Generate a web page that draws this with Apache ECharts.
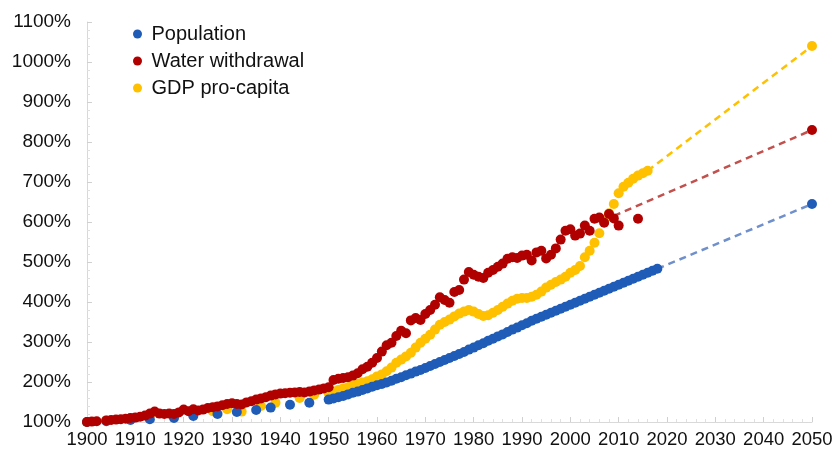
<!DOCTYPE html>
<html>
<head>
<meta charset="utf-8">
<script src="https://cdn.jsdelivr.net/npm/echarts@6/dist/echarts.min.js"></script>
<style>
  html, body { margin: 0; padding: 0; background: #fff; }
  #chart { width: 838px; height: 452px; }
</style>
</head>
<body>
<div id="chart"></div>
<script>
// values are % of 1900 level, [year, value]
const population = [
  [1900, 100], [1904, 102], [1909, 105], [1913, 107], [1918, 110], [1922, 115],
  [1927, 120], [1931, 125], [1935, 130], [1938, 136], [1942, 143], [1946, 148],
  [1950, 156], [1951, 159], [1952, 162], [1953, 165], [1954, 169], [1955, 173],
  [1956, 176], [1957, 180], [1958, 184], [1959, 188], [1960, 192], [1961, 195],
  [1962, 199], [1963, 203], [1964, 208], [1965, 212], [1966, 217], [1967, 221],
  [1968, 226], [1969, 230], [1970, 235], [1971, 240], [1972, 245], [1973, 250],
  [1974, 255], [1975, 260], [1976, 265], [1977, 270], [1978, 275], [1979, 281],
  [1980, 286], [1981, 292], [1982, 297], [1983, 303], [1984, 308], [1985, 314],
  [1986, 319], [1987, 325], [1988, 331], [1989, 336], [1990, 342], [1991, 347],
  [1992, 353], [1993, 358], [1994, 363], [1995, 368], [1996, 373], [1997, 378],
  [1998, 383], [1999, 388], [2000, 393], [2001, 398], [2002, 403], [2003, 408],
  [2004, 413], [2005, 418], [2006, 423], [2007, 428], [2008, 433], [2009, 438],
  [2010, 443], [2011, 448], [2012, 453], [2013, 458], [2014, 463], [2015, 468],
  [2016, 473], [2017, 478], [2018, 483]
];

const water = [
  [1900, 100], [1901, 101], [1902, 102], [1904, 104], [1905, 105], [1906, 106],
  [1907, 107], [1908, 108], [1909, 110], [1910, 111], [1911, 113], [1912, 116],
  [1913, 121], [1914, 126], [1915, 121], [1916, 120], [1917, 121], [1918, 120],
  [1919, 124], [1920, 131], [1921, 127], [1922, 132], [1923, 129], [1924, 131],
  [1925, 135], [1926, 137], [1927, 139], [1928, 142], [1929, 145], [1930, 147],
  [1931, 145], [1932, 144], [1933, 149], [1934, 152], [1935, 156], [1936, 159],
  [1937, 162], [1938, 166], [1939, 169], [1940, 171], [1941, 172], [1942, 173],
  [1943, 174], [1944, 175], [1945, 174], [1946, 176], [1947, 179], [1948, 181],
  [1949, 184], [1950, 187], [1951, 205], [1952, 208], [1953, 210], [1954, 212],
  [1955, 216], [1956, 222], [1957, 232], [1958, 238], [1959, 248], [1960, 260],
  [1961, 276], [1962, 292], [1963, 298], [1964, 315], [1965, 328], [1966, 322],
  [1967, 354], [1968, 360], [1969, 355], [1970, 370], [1971, 380], [1972, 393],
  [1973, 412], [1974, 405], [1975, 398], [1976, 425], [1977, 430], [1978, 456],
  [1979, 475], [1980, 468], [1981, 463], [1982, 460], [1983, 473], [1984, 480],
  [1985, 488], [1986, 496], [1987, 508], [1988, 512], [1989, 510], [1990, 516],
  [1991, 518], [1992, 504], [1993, 524], [1994, 528], [1995, 509], [1996, 518],
  [1997, 534], [1998, 556], [1999, 578], [2000, 582], [2001, 566], [2002, 571],
  [2003, 591], [2004, 578], [2005, 608], [2006, 611], [2007, 598], [2008, 620],
  [2009, 609], [2010, 591], [2014, 608]
];

const gdp = [
  [1900, 100], [1904, 104], [1909, 110], [1913, 116], [1918, 114], [1922, 120],
  [1926, 127], [1929, 132], [1932, 126], [1936, 140], [1939, 148], [1944, 160],
  [1947, 168],
  [1950, 172], [1951, 176], [1952, 180], [1953, 184], [1954, 187], [1955, 192],
  [1956, 196], [1957, 199], [1958, 202], [1959, 207], [1960, 214], [1961, 219],
  [1962, 227], [1963, 236], [1964, 248], [1965, 256], [1966, 264], [1967, 273],
  [1968, 286], [1969, 298], [1970, 308], [1971, 318], [1972, 331], [1973, 343],
  [1974, 350], [1975, 356], [1976, 364], [1977, 371], [1978, 376], [1979, 380],
  [1980, 376], [1981, 370], [1982, 365], [1983, 367], [1984, 373], [1985, 380],
  [1986, 388], [1987, 396], [1988, 403], [1989, 408], [1990, 410], [1991, 410],
  [1992, 413], [1993, 418], [1994, 426], [1995, 436], [1996, 443], [1997, 450],
  [1998, 456], [1999, 463], [2000, 473], [2001, 480], [2002, 490], [2003, 512],
  [2004, 528], [2005, 548], [2006, 572], [2007, 602], [2008, 622], [2009, 645],
  [2010, 672], [2011, 688], [2012, 698], [2013, 708], [2014, 716], [2015, 722],
  [2016, 728]
];

// 2050 projections (dashed from last observed value)
const popProjection = [[2018, 483], [2050, 645]];
const waterProjection = [[2009, 615], [2050, 830]];
const gdpProjection = [[2016, 728], [2050, 1040]];

const yTicks = { min: 100, max: 1100, step: 100 };
const xTicks = { min: 1900, max: 2050, step: 10 };

const BLUE = '#1f5cb8';
const RED = '#b10000';
const YELLOW = '#ffc000';
const FONT = '"Liberation Sans", Arial, sans-serif';

let myChart = echarts.init(document.getElementById('chart'));

function scatter(name, data, end, color) {
    return {
        name: name,
        type: 'scatter',
        data: data.concat([end[end.length - 1]]),
        symbolSize: 10,
        itemStyle: { color: color, opacity: 1 },
        z: 3
    };
}

function dashed(name, data, color) {
    return {
        name: name,
        type: 'line',
        data: data,
        showSymbol: false,
        symbol: 'none',
        lineStyle: { color: color, width: 2.5, type: [7, 5] },
        z: 2,
        silent: true
    };
}

let option = {
    animation: false,
    backgroundColor: '#ffffff',
    grid: { left: 87, right: 26, top: 22, bottom: 30 },
    legend: {
        data: ['Population', 'Water withdrawal', 'GDP pro-capita'],
        orient: 'vertical',
        left: 128,
        top: 19,
        icon: 'circle',
        itemWidth: 18,
        itemHeight: 9,
        itemGap: 7,
        textStyle: { fontFamily: FONT, fontSize: 20, color: '#111', lineHeight: 20 }
    },
    xAxis: {
        type: 'value',
        min: xTicks.min,
        max: xTicks.max,
        interval: xTicks.step,
        axisLine: { lineStyle: { color: '#d9d9d9' } },
        axisTick: { length: 5, inside: true, lineStyle: { color: '#d0d0d0' } },
        minorTick: { show: true, splitNumber: 5, length: 3, lineStyle: { color: '#e0e0e0' } },
        splitLine: { show: false },
        axisLabel: {
            fontFamily: FONT, fontSize: 18.5, color: '#111', margin: 8,
            formatter: function (v) { return String(v); }
        }
    },
    yAxis: {
        type: 'value',
        min: yTicks.min,
        max: yTicks.max,
        interval: yTicks.step,
        axisLine: { show: true, lineStyle: { color: '#d9d9d9' } },
        axisTick: { show: true, length: 5, inside: true, lineStyle: { color: '#d0d0d0' } },
        minorTick: { show: true, splitNumber: 5, length: 3, lineStyle: { color: '#e0e0e0' } },
        splitLine: { show: false },
        axisLabel: {
            fontFamily: FONT, fontSize: 19, color: '#111', margin: 16,
            formatter: function (v) { return v + '%'; }
        }
    },
    series: [
        dashed('gdpProj', gdpProjection, YELLOW),
        dashed('waterProj', waterProjection, '#c2504d'),
        dashed('popProj', popProjection, '#7090cc'),
        scatter('GDP pro-capita', gdp, gdpProjection, YELLOW),
        scatter('Population', population, popProjection, BLUE),
        scatter('Water withdrawal', water, waterProjection, RED)
    ]
};

if (option && typeof option === 'object') {
    myChart.setOption(option);
}
</script>
</body>
</html>
